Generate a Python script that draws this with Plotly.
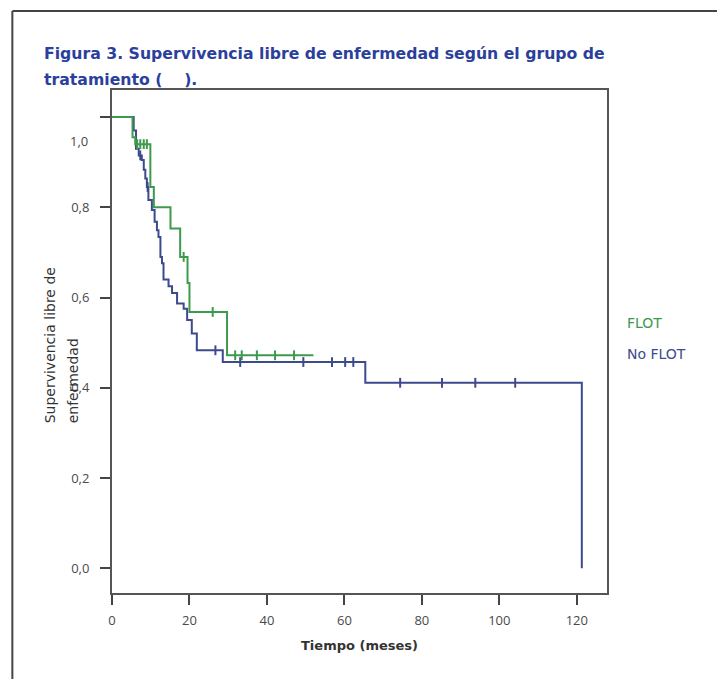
import plotly.graph_objects as go
import numpy as np

# ---- data ----
green_t = [0, 5.3, 6.0, 9.9, 10.8, 15.1, 17.6, 19.5, 20.0, 29.7, 52.0]
green_s = [1.0, 0.955, 0.94, 0.845, 0.80, 0.753, 0.69, 0.632, 0.568, 0.472, 0.472]
green_cens = [6.5, 7.3, 8.2, 9.0, 18.5, 26.0, 31.8, 33.5, 37.4, 42.1, 47.0]

blue_t = [0, 5.6, 6.2, 6.9, 7.7, 8.2, 8.6, 9.0, 9.4, 10.3, 11.0, 11.6, 12.0, 12.5,
          12.9, 13.3, 14.6, 15.5, 16.8, 18.5, 19.4, 20.6, 21.9, 28.6, 65.4, 121.3]
blue_s = [1.0, 0.97, 0.93, 0.915, 0.905, 0.883, 0.864, 0.845, 0.816, 0.794, 0.768,
          0.749, 0.734, 0.69, 0.676, 0.64, 0.625, 0.61, 0.587, 0.575, 0.55, 0.52,
          0.483, 0.457, 0.411, 0.0]
blue_cens = [7.3, 9.2, 26.7, 33.1, 49.4, 56.8, 60.2, 62.3, 74.4, 85.2, 93.8, 104.1]

x_ticks = [0, 20, 40, 60, 80, 100, 120]
y_ticks = [0.0, 0.2, 0.4, 0.6, 0.8, 1.0]
y_ticktext = ["0,0", "0,2", "0,4", "0,6", "0,8", ""]

GREEN = "#3d9a4c"
BLUE = "#3d4a8c"
TITLE_BLUE = "#2b3f9c"


def step_at(ts, ss, t):
    idx = np.searchsorted(np.array(ts), t, side="right") - 1
    return ss[idx]


fig = go.Figure()
fig.add_trace(go.Scatter(x=blue_t, y=blue_s, mode="lines", line=dict(color=BLUE, width=2, shape="hv"),
                         showlegend=False))
fig.add_trace(go.Scatter(x=green_t, y=green_s, mode="lines", line=dict(color=GREEN, width=2, shape="hv"),
                         showlegend=False))
fig.add_trace(go.Scatter(x=blue_cens, y=[step_at(blue_t, blue_s, t) for t in blue_cens], mode="markers",
                         marker=dict(symbol="line-ns", size=7, color=BLUE, line=dict(color=BLUE, width=2)),
                         showlegend=False))
fig.add_trace(go.Scatter(x=green_cens, y=[step_at(green_t, green_s, t) for t in green_cens], mode="markers",
                         marker=dict(symbol="line-ns", size=7, color=GREEN, line=dict(color=GREEN, width=2)),
                         showlegend=False))

OFF = 8  # page body margin
W, H = 725 - OFF, 679 - OFF
L, R, T, B = 111.7 - OFF, 607.0 - OFF, 90.0 - OFF, 593.0 - OFF


def px(x):
    return (x - OFF - L) / (R - L)


def py(y):
    return (B - (y - OFF)) / (B - T)


axis_common = dict(showline=True, linecolor="#555555", linewidth=2, mirror=True, ticks="outside",
                   ticklen=10, tickwidth=2, tickcolor="#444444", showgrid=False, zeroline=False,
                   tickfont=dict(family="Open Sans", size=13, color="#4a4a4a"))

fig.update_layout(
    width=W, height=H, autosize=False,
    margin=dict(l=L, r=W - R, t=T, b=H - B, pad=0),
    paper_bgcolor="white", plot_bgcolor="white",
    xaxis=dict(range=[0, 127.8], tickvals=x_ticks, ticklabelstandoff=4, **axis_common),
    yaxis=dict(range=[-0.055, 1.06], tickvals=y_ticks, ticktext=y_ticktext, ticklabelstandoff=8,
               **axis_common),
)

ann = []
# title
ann.append(dict(text="<b>Figura 3. Supervivencia libre de enfermedad según el grupo de</b>",
                x=px(42), y=py(53), xref="paper", yref="paper", xanchor="left", yanchor="middle",
                showarrow=False, font=dict(family="DejaVu Sans", size=15.7, color=TITLE_BLUE)))
ann.append(dict(text="<b>tratamiento (    ).</b>",
                x=px(42), y=py(80), xref="paper", yref="paper", xanchor="left", yanchor="middle",
                showarrow=False, font=dict(family="DejaVu Sans", size=15.7, color=TITLE_BLUE)))
# misplaced 1,0 label
ann.append(dict(text="1,0", x=px(90), y=0.947, xref="paper", yref="y", xanchor="right", yanchor="middle",
                showarrow=False, font=dict(family="Open Sans", size=13, color="#4a4a4a")))
# y axis title (two lines)
ann.append(dict(text="Supervivencia libre de", x=px(50), y=py(345), xref="paper", yref="paper",
                xanchor="center", yanchor="middle", textangle=-90, showarrow=False,
                font=dict(family="DejaVu Sans", size=14, color="#333333")))
ann.append(dict(text="enfermedad", x=px(73), y=py(381), xref="paper", yref="paper",
                xanchor="center", yanchor="middle", textangle=-90, showarrow=False,
                font=dict(family="DejaVu Sans", size=14, color="#333333")))
# x axis title
ann.append(dict(text="<b>Tiempo (meses)</b>", x=px(359), y=py(645), xref="paper", yref="paper",
                xanchor="center", yanchor="middle", showarrow=False,
                font=dict(family="DejaVu Sans", size=13, color="#333333")))
# legend
ann.append(dict(text="FLOT", x=px(625), y=py(323), xref="paper", yref="paper", xanchor="left",
                yanchor="middle", showarrow=False, font=dict(family="DejaVu Sans", size=14, color=GREEN)))
ann.append(dict(text="No FLOT", x=px(625), y=py(354), xref="paper", yref="paper", xanchor="left",
                yanchor="middle", showarrow=False, font=dict(family="DejaVu Sans", size=14, color=BLUE)))
fig.update_layout(annotations=ann)

# outer frame
fig.add_shape(type="line", xref="paper", yref="paper", x0=px(12), y0=py(11), x1=px(725), y1=py(11),
              line=dict(color="#444444", width=2))
fig.add_shape(type="line", xref="paper", yref="paper", x0=px(12), y0=py(11), x1=px(12), y1=py(679),
              line=dict(color="#444444", width=2))

fig.write_html("out.html")
